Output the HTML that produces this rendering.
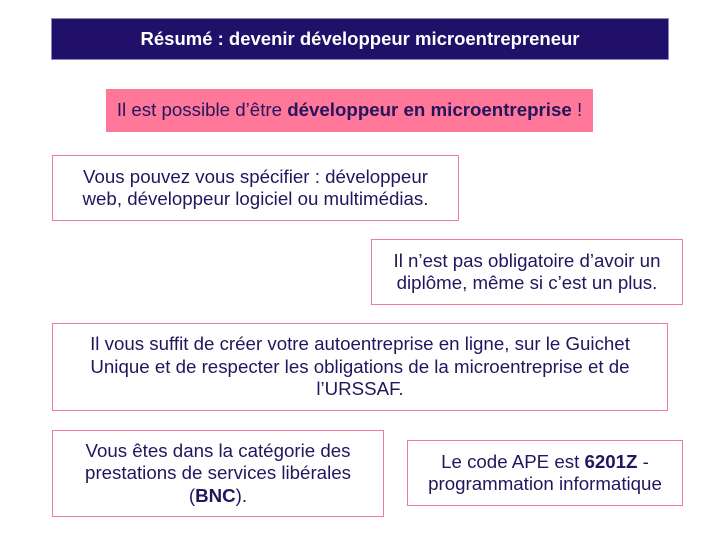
<!DOCTYPE html>
<html><head><meta charset="utf-8"><style>
body{margin:0;width:720px;height:540px;background:#fff;position:relative;font-family:"Liberation Sans",sans-serif;overflow:hidden}
.b{position:absolute;box-sizing:border-box;display:flex;align-items:center;justify-content:center;text-align:center;color:#23155e;font-size:18.7px;line-height:22.5px}
.b>div{width:100%}
.o{border:1.5px solid #f07a9c;background:#fff}
</style></head><body>
<div class="b" style="left:51px;top:18px;width:618px;height:42px;background:#20106a;color:#fff;font-weight:bold;font-size:18.5px;border:1px solid #8a86b8"><div>Résumé : devenir développeur microentrepreneur</div></div>
<div class="b" style="left:106px;top:89px;width:487px;height:43px;background:#ff7799"><div>Il est possible d’être <b>développeur en microentreprise</b> !</div></div>
<div class="b o" style="left:52px;top:155px;width:407px;height:66px"><div>Vous pouvez vous spécifier : développeur<br>web, développeur logiciel ou multimédias.</div></div>
<div class="b o" style="left:371px;top:239px;width:312px;height:66px"><div>Il n’est pas obligatoire d’avoir un<br>diplôme, même si c’est un plus.</div></div>
<div class="b o" style="left:52px;top:323px;width:616px;height:88px"><div>Il vous suffit de créer votre autoentreprise en ligne, sur le Guichet<br>Unique et de respecter les obligations de la microentreprise et de<br>l’URSSAF.</div></div>
<div class="b o" style="left:52px;top:430px;width:332px;height:87px"><div>Vous êtes dans la catégorie des<br>prestations de services libérales<br>(<b>BNC</b>).</div></div>
<div class="b o" style="left:407px;top:440px;width:276px;height:66px"><div>Le code APE est <b>6201Z</b> -<br>programmation informatique</div></div>
</body></html>
